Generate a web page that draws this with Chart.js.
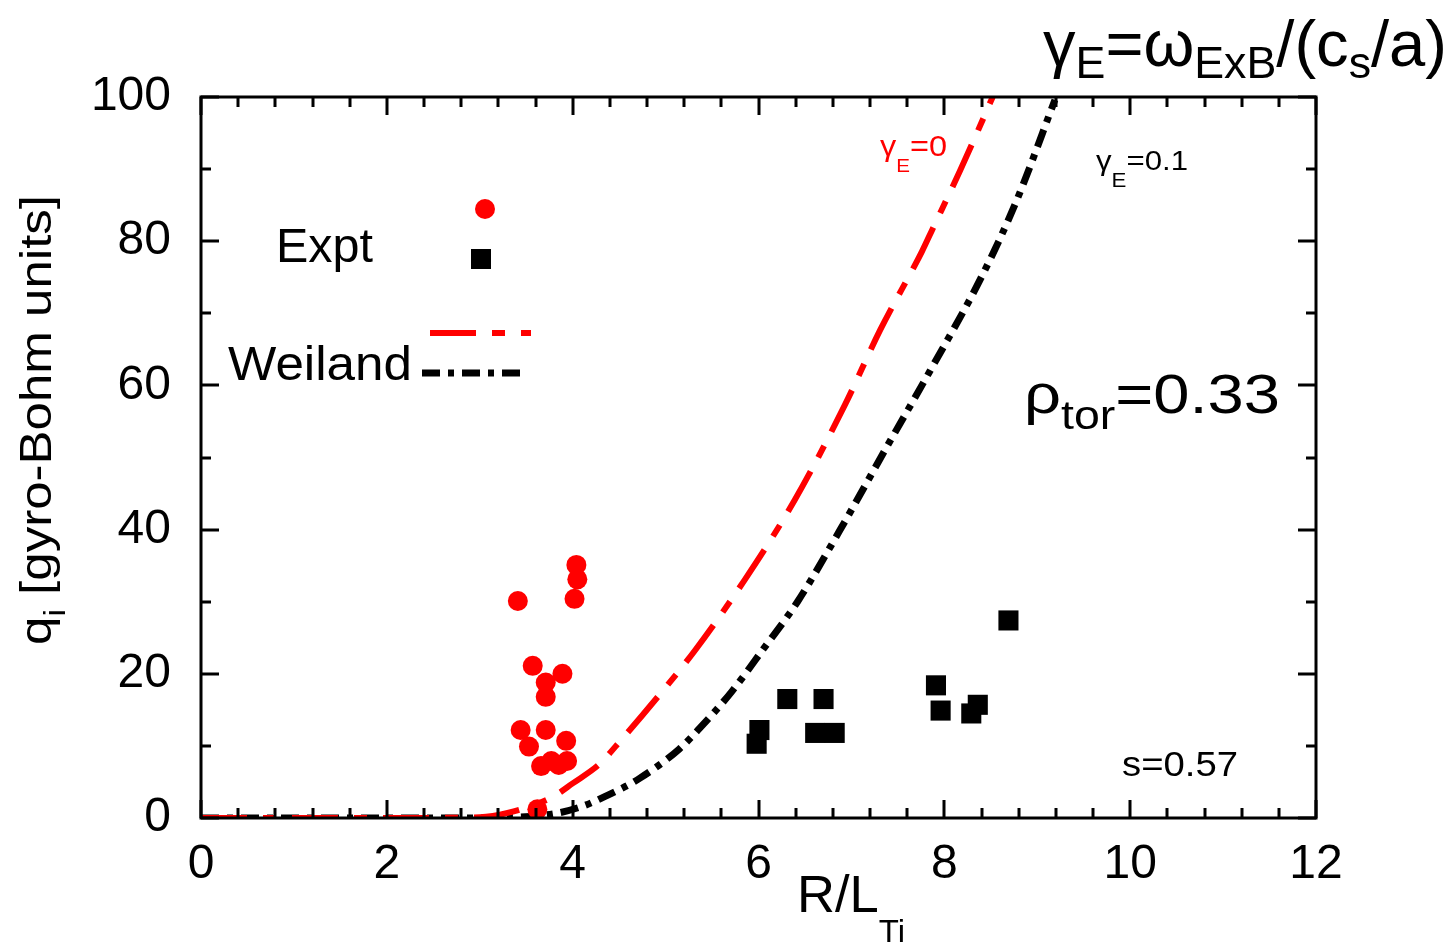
<!DOCTYPE html>
<html>
<head>
<meta charset="utf-8">
<script src="https://cdn.jsdelivr.net/npm/chart.js@4/dist/chart.umd.min.js"></script>
<style>
  html, body { margin: 0; background: #fff; }
  #c { display: block; }
</style>
</head>
<body>
<canvas id="c" width="1452" height="943"></canvas>
<script>
// q_i vs R/L_Ti, rho_tor = 0.33
const FONT = '"Liberation Sans", Arial, Helvetica, sans-serif';

// tick values
const xTicks = [0, 2, 4, 6, 8, 10, 12];
const yTicks = [0, 20, 40, 60, 80, 100];

// experiment, red circles
const exptRedX = [4.04, 4.05, 4.02, 3.41, 3.57, 3.89, 3.71, 3.71, 3.44, 3.71, 3.93, 3.53, 3.66, 3.77, 3.85, 3.94, 3.62];
const exptRedY = [35.1, 33.1, 30.4, 30.1, 21.1, 20.0, 18.8, 16.8, 12.2, 12.2, 10.7, 9.9, 7.2, 7.9, 7.35, 7.9, 1.2];

// experiment, black squares
const exptBlackX = [8.69, 7.91, 7.96, 8.36, 8.29, 6.31, 6.70, 6.01, 5.98, 6.61, 6.82];
const exptBlackY = [27.4, 18.4, 14.9, 15.7, 14.5, 16.5, 16.5, 12.2, 10.3, 11.8, 11.8];

// Weiland model, gamma_E = 0
const weilandE0X = [0, 1, 2, 3.0, 3.3, 3.78, 4.0, 4.3, 4.46, 4.89, 5.32, 5.85, 6.39, 6.93, 7.31, 7.76, 7.87, 8.17, 8.33, 8.52];
const weilandE0Y = [0, 0, 0, 0.1, 0.7, 2.9, 4.8, 7.6, 9.9, 16.4, 23.3, 33.0, 44.1, 57.3, 67.7, 78.6, 81.6, 89.8, 94.4, 100];

// Weiland model, gamma_E = 0.1
const weilandE01X = [0, 1, 2, 3, 3.8, 4.1, 4.35, 4.72, 5.15, 5.37, 5.71, 6.05, 6.42, 6.88, 7.36, 7.85, 8.41, 8.78, 9.19];
const weilandE01Y = [0, 0, 0, 0, 0.6, 1.6, 3.0, 5.5, 9.6, 12.5, 17.5, 23.4, 30.0, 40.0, 51.0, 62.1, 75.3, 85.7, 99.6];

const toPts = (xs, ys) => xs.map((x, i) => ({ x: x, y: ys[i] }));

const RED = '#ff0000';
const RED_DASH = [46, 16, 13, 16];
const BLACK_DASH = [18, 8, 6, 8];

// text with sub/superscript parts: [text, size, dy]; squeezed to a width if given
function drawRich(ctx, parts, x, y, width, color) {
    ctx.save();
    ctx.fillStyle = color || '#000';
    ctx.textAlign = 'left';
    ctx.textBaseline = 'alphabetic';
    let total = 0;
    const widths = parts.map(p => {
        ctx.font = p[1] + 'px ' + FONT;
        const w = ctx.measureText(p[0]).width;
        total += w;
        return w;
    });
    ctx.translate(x, y);
    if (width) ctx.scale(width / total, 1);
    let cx = 0;
    parts.forEach((p, i) => {
        ctx.font = p[1] + 'px ' + FONT;
        ctx.fillText(p[0], cx, p[2] || 0);
        cx += widths[i];
    });
    ctx.restore();
}

const framePlugin = {
    id: 'frame',
    afterDraw(chart) {
        const ctx = chart.ctx;
        const a = chart.chartArea;
        const xs = chart.scales.x, ys = chart.scales.y;
        ctx.save();
        ctx.strokeStyle = '#000';
        ctx.lineWidth = 3;
        ctx.lineCap = 'butt';

        // inward ticks on all four sides
        ctx.beginPath();
        for (let v = 0; v <= 12.001; v += 0.4) {
            const px = Math.round(xs.getPixelForValue(v));
            const major = Math.abs(v / 2 - Math.round(v / 2)) < 0.01;
            const len = major ? 18 : 10;
            ctx.moveTo(px, a.bottom); ctx.lineTo(px, a.bottom - len);
            ctx.moveTo(px, a.top); ctx.lineTo(px, a.top + len);
        }
        for (let v = 0; v <= 100; v += 10) {
            const py = Math.round(ys.getPixelForValue(v));
            const len = v % 20 === 0 ? 18 : 10;
            ctx.moveTo(a.left, py); ctx.lineTo(a.left + len, py);
            ctx.moveTo(a.right, py); ctx.lineTo(a.right - len, py);
        }
        ctx.stroke();
        ctx.strokeRect(a.left, a.top, a.right - a.left, a.bottom - a.top);

        // legend
        drawRich(ctx, [['Expt', 48]], 276, 262, 97);
        drawRich(ctx, [['Weiland', 48]], 228, 380, 184);
        ctx.fillStyle = RED;
        ctx.beginPath();
        ctx.arc(485, 209, 10, 0, Math.PI * 2);
        ctx.fill();
        ctx.fillStyle = '#000';
        ctx.fillRect(471, 249, 20, 20);

        ctx.lineWidth = 6;
        ctx.strokeStyle = RED;
        ctx.setLineDash(RED_DASH);
        ctx.beginPath(); ctx.moveTo(430, 333); ctx.lineTo(531, 333); ctx.stroke();
        ctx.lineWidth = 7;
        ctx.strokeStyle = '#000';
        ctx.setLineDash(BLACK_DASH);
        ctx.beginPath(); ctx.moveTo(422, 373); ctx.lineTo(523, 373); ctx.stroke();
        ctx.setLineDash([]);

        // annotations
        drawRich(ctx, [['\u03b3', 30], ['E', 19, 16], ['=0', 30]], 880, 156, 67, RED);
        drawRich(ctx, [['\u03b3', 28], ['E', 20, 17], ['=0.1', 28]], 1096, 170, 92, '#000');
        drawRich(ctx, [['\u03c1', 56], ['tor', 40, 16], ['=0.33', 56]], 1024, 413, 256, '#000');
        drawRich(ctx, [['s=0.57', 35]], 1122, 776, 116, '#000');

        // title
        drawRich(ctx, [['\u03b3', 64], ['E', 44, 12], ['=\u03c9', 64], ['ExB', 44, 12],
                       ['/(c', 64], ['s', 44, 12], ['/a)', 64]], 1043, 66, 404, '#000');

        // axis titles
        drawRich(ctx, [['R/L', 51], ['Ti', 32, 30]], 797, 912, 108, '#000');
        ctx.translate(51, 645);
        ctx.rotate(-Math.PI / 2);
        drawRich(ctx, [['q', 45], ['i', 30, 14], [' [gyro-Bohm units]', 45]], 0, 0, 450, '#000');
        ctx.restore();
    }
};

new Chart(document.getElementById('c'), {
    type: 'scatter',
    data: {
        datasets: [
            {
                label: 'Expt',
                data: toPts(exptRedX, exptRedY),
                pointStyle: 'circle',
                pointRadius: 10,
                backgroundColor: RED,
                borderWidth: 0
            },
            {
                label: 'Expt',
                data: toPts(exptBlackX, exptBlackY),
                pointStyle: 'rect',
                pointRadius: 14.2,
                backgroundColor: '#000',
                borderWidth: 0
            },
            {
                label: 'Weiland \u03b3E=0',
                data: toPts(weilandE0X, weilandE0Y),
                showLine: true,
                pointRadius: 0,
                borderColor: RED,
                borderWidth: 6,
                borderDash: RED_DASH,
                cubicInterpolationMode: 'monotone'
            },
            {
                label: 'Weiland \u03b3E=0.1',
                data: toPts(weilandE01X, weilandE01Y),
                showLine: true,
                pointRadius: 0,
                borderColor: '#000',
                borderWidth: 7,
                borderDash: BLACK_DASH,
                cubicInterpolationMode: 'monotone'
            }
        ]
    },
    options: {
        responsive: false,
        animation: false,
        devicePixelRatio: 1,
        layout: { padding: { top: 97, right: 136, left: 0, bottom: 0 } },
        plugins: { legend: { display: false }, tooltip: { enabled: false } },
        scales: {
            x: {
                type: 'linear',
                min: 0,
                max: 12,
                afterBuildTicks: s => { s.ticks = xTicks.map(v => ({ value: v })); },
                ticks: { color: '#000', font: { family: FONT, size: 48 }, padding: 10, maxRotation: 0 },
                grid: { display: false },
                border: { display: false },
                afterFit: s => { s.height = 125; }
            },
            y: {
                type: 'linear',
                min: 0,
                max: 100,
                afterBuildTicks: s => { s.ticks = yTicks.map(v => ({ value: v })); },
                ticks: { color: '#000', font: { family: FONT, size: 48 }, padding: 22 },
                grid: { display: false },
                border: { display: false },
                afterFit: s => { s.width = 201; }
            }
        }
    },
    plugins: [framePlugin]
});
</script>
</body>
</html>
